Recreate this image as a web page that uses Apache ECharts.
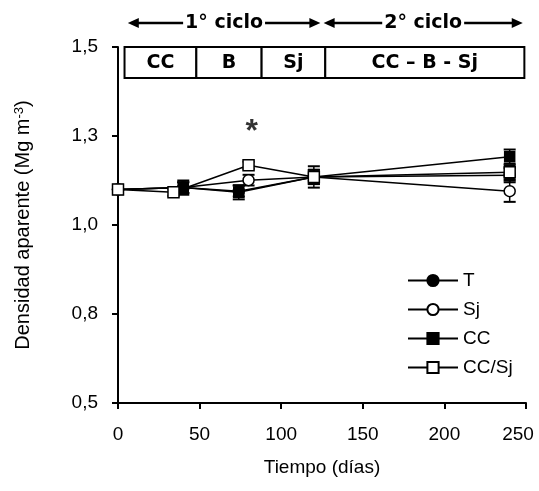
<!DOCTYPE html>
<html><head><meta charset="utf-8">
<script src="https://cdn.jsdelivr.net/npm/echarts@6/dist/echarts.min.js"></script>
<style>html,body{margin:0;padding:0;background:#fff}#c{width:539px;height:491px}</style>
</head><body><div id="c"></div>
<script>
// ---- data ----
const seriesNames = ['T', 'Sj', 'CC', 'CC/Sj'];
const daysT = [0, 40, 74, 120, 240];
const valuesT = [1.10, 1.105, 1.095, 1.135, 1.14];
const errT = [0.01, 0.015, 0.015, 0.02, 0.02];
const daysSj = [0, 40, 80, 120, 240];
const valuesSj = [1.10, 1.105, 1.126, 1.135, 1.095];
const errSj = [0.01, 0.015, 0.015, 0.02, 0.03];
const daysCC = [0, 40, 74, 120, 240];
const valuesCC = [1.10, 1.105, 1.092, 1.135, 1.192];
const errCC = [0.01, 0.02, 0.02, 0.03, 0.02];
const daysCCSj = [0, 34, 80, 120, 240];
const valuesCCSj = [1.10, 1.092, 1.168, 1.135, 1.148];
const errCCSj = [0.01, 0.01, 0.01, 0.01, 0.02];
const xTicks = [0, 50, 100, 150, 200, 250];
const yTicks = [0.5, 0.75, 1.0, 1.25, 1.5];
const phaseLabels = ['CC', 'B', 'Sj', 'CC – B - Sj'];
const phaseBounds = [4, 48, 88, 127, 249];
const cycleLabels = ['1° ciclo', '2° ciclo'];
const cycleStarts = [6, 126];
const cycleEnds = [124, 248];
const asteriskDay = [82];
const asteriskValue = [1.262];

// ---- build ----
const AX = 'Liberation Sans';
const HF = 'DejaVu Sans';
const pts = (d, v) => d.map((x, i) => [x, v[i]]);
const errs = (d, v, e) => d.map((x, i) => [x, v[i] - e[i], v[i] + e[i]]);
const yMax = yTicks[yTicks.length - 1];

function errRender(params, api) {
  const x = api.value(0), lo = api.value(1), hi = api.value(2);
  const p1 = api.coord([x, hi]), p2 = api.coord([x, lo]);
  const w = 6;
  const st = {stroke: '#000', lineWidth: 2};
  return {type: 'group', children: [
    {type: 'line', shape: {x1: p1[0], y1: p1[1], x2: p2[0], y2: p2[1]}, style: {stroke: '#000', lineWidth: 1.5}},
    {type: 'line', shape: {x1: p1[0] - w, y1: p1[1], x2: p1[0] + w, y2: p1[1]}, style: st},
    {type: 'line', shape: {x1: p2[0] - w, y1: p2[1], x2: p2[0] + w, y2: p2[1]}, style: st}
  ]};
}

const phaseData = phaseLabels.map((l, i) => [phaseBounds[i], phaseBounds[i + 1], yMax]);
function phaseRender(params, api) {
  const a = api.coord([api.value(0), api.value(2)]);
  const b = api.coord([api.value(1), api.value(2)]);
  const h = 31;
  return {type: 'group', children: [
    {type: 'rect', shape: {x: a[0], y: a[1], width: b[0] - a[0], height: h},
     style: {fill: '#fff', stroke: '#000', lineWidth: 2}},
    {type: 'text', x: (a[0] + b[0]) / 2, y: a[1] + h / 2 + 1,
     style: {text: phaseLabels[params.dataIndex], align: 'center', verticalAlign: 'middle',
             font: 'bold 19px "' + HF + '"', fill: '#000'}}
  ]};
}

const cycleData = cycleLabels.map((l, i) => [cycleStarts[i], cycleEnds[i], yMax]);
function cycleRender(params, api) {
  const a = api.coord([api.value(0), api.value(2)]);
  const b = api.coord([api.value(1), api.value(2)]);
  const y = a[1] - 24;
  const L = 11, H = 5;
  return {type: 'group', children: [
    {type: 'line', shape: {x1: a[0] + 4, y1: y, x2: b[0] - 4, y2: y}, style: {stroke: '#000', lineWidth: 2.5}},
    {type: 'polygon', shape: {points: [[a[0], y], [a[0] + L, y - H], [a[0] + L, y + H]]}, style: {fill: '#000'}},
    {type: 'polygon', shape: {points: [[b[0], y], [b[0] - L, y - H], [b[0] - L, y + H]]}, style: {fill: '#000'}},
    {type: 'text', x: (a[0] + b[0]) / 2, y: y,
     style: {text: cycleLabels[params.dataIndex], align: 'center', verticalAlign: 'middle',
             font: 'bold 19px "' + HF + '"', fill: '#000', backgroundColor: '#fff', padding: [0, 2]}}
  ]};
}

function lineSeries(name, data, symbol, fill, size) {
  return {
    name, type: 'line', data, symbol, symbolSize: size, showAllSymbol: true,
    lineStyle: {color: '#000', width: 1.5},
    itemStyle: {color: fill, borderColor: '#000', borderWidth: 1.5},
    z: 3
  };
}
function errSeries(data) {
  return {type: 'custom', renderItem: errRender, data, encode: {x: 0, y: [1, 2]}, z: 2, silent: true, clip: false};
}

const chart = echarts.init(document.getElementById('c'), null, {renderer: 'canvas'});
chart.setOption({
  animation: false,
  backgroundColor: '#fff',
  grid: {left: 118, right: 13, top: 47, bottom: 88},
  legend: {
    orient: 'vertical', left: 402, top: 266, itemWidth: 50, itemHeight: 14, itemGap: 10,
    textStyle: {fontFamily: AX, fontSize: 19, color: '#000'},
    data: seriesNames
  },
  xAxis: {
    type: 'value', min: xTicks[0], max: xTicks[xTicks.length - 1], interval: xTicks[1] - xTicks[0],
    name: 'Tiempo (días)', nameLocation: 'middle', nameGap: 55,
    nameTextStyle: {fontFamily: AX, fontSize: 19, color: '#000'},
    axisLine: {lineStyle: {color: '#000', width: 2}},
    axisTick: {length: 6, lineStyle: {color: '#000', width: 2}},
    axisLabel: {margin: 22, fontFamily: AX, fontSize: 19, color: '#000',
      formatter: v => v === xTicks[xTicks.length - 1] ? '{last|' + v + '}' : String(v),
      rich: {last: {fontFamily: AX, fontSize: 19, color: '#000', padding: [0, 16, 0, 0]}}},
    splitLine: {show: false}
  },
  yAxis: {
    type: 'value', min: yTicks[0], max: yTicks[yTicks.length - 1], interval: yTicks[1] - yTicks[0],
    name: 'Densidad aparente (Mg m{sup|-3})', nameLocation: 'middle', nameGap: 84,
    nameTextStyle: {fontFamily: AX, fontSize: 20, color: '#000',
      rich: {sup: {fontFamily: AX, fontSize: 13, color: '#000', verticalAlign: 'top', padding: [0, 0, 8, 0]}}},
    axisLine: {lineStyle: {color: '#000', width: 2}},
    axisTick: {length: 6, lineStyle: {color: '#000', width: 2}},
    axisLabel: {margin: 20, fontFamily: AX, fontSize: 19, color: '#000',
      formatter: v => v.toFixed(1).replace('.', ',')},
    splitLine: {show: false}
  },
  series: [
    errSeries(errs(daysT, valuesT, errT)),
    errSeries(errs(daysSj, valuesSj, errSj)),
    errSeries(errs(daysCC, valuesCC, errCC)),
    errSeries(errs(daysCCSj, valuesCCSj, errCCSj)),
    lineSeries('T', pts(daysT, valuesT), 'circle', '#000', 11),
    lineSeries('Sj', pts(daysSj, valuesSj), 'circle', '#fff', 11),
    lineSeries('CC', pts(daysCC, valuesCC), 'rect', '#000', 10),
    lineSeries('CC/Sj', pts(daysCCSj, valuesCCSj), 'rect', '#fff', 11),
    {type: 'custom', renderItem: phaseRender, data: phaseData, encode: {x: [0, 1], y: 2}, clip: false, silent: true, z: 5},
    {type: 'custom', renderItem: cycleRender, data: cycleData, encode: {x: [0, 1], y: 2}, clip: false, silent: true, z: 5},
    {type: 'scatter', data: pts(asteriskDay, asteriskValue), symbolSize: 0, silent: true, z: 5,
     label: {show: true, position: 'inside', formatter: '*', fontFamily: AX, fontWeight: 'bold', fontSize: 32, color: '#000'}}
  ]
});
</script>
</body></html>
